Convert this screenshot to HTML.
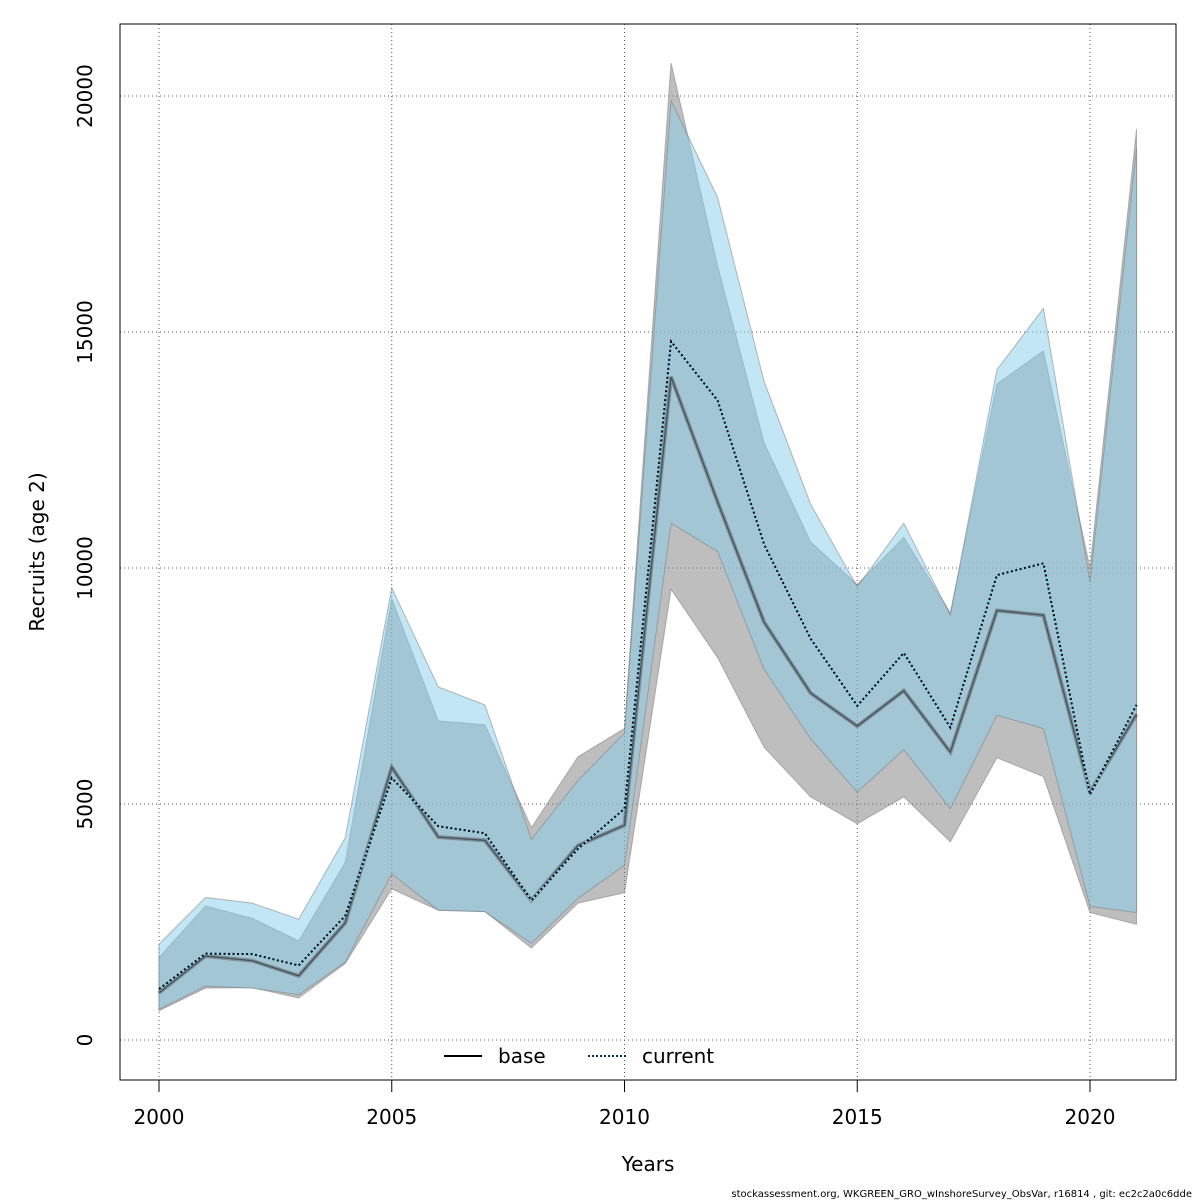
<!DOCTYPE html>
<html><head><meta charset="utf-8"><style>
body{margin:0;background:#fff;font-family:"Liberation Sans","DejaVu Sans",sans-serif}
</style></head><body>
<svg id="chart" width="1200" height="1200" xmlns="http://www.w3.org/2000/svg" style="display:block;font-family:'DejaVu Sans','Liberation Sans',sans-serif">
<g id="grid"></g>
<g id="bands"></g>
<g id="lines"></g>
<rect x="120" y="24" width="1056" height="1056" fill="none" stroke="#000" stroke-width="1"/>
<g id="axes"></g>
<text x="648" y="1171" font-size="20" text-anchor="middle">Years</text>
<text transform="translate(44,552) rotate(-90)" font-size="20" text-anchor="middle">Recruits (age 2)</text>
<g>
<line x1="444" y1="1056" x2="482" y2="1056" stroke="#000" stroke-width="2"/>
<text x="498" y="1063" font-size="20">base</text>
<line x1="588" y1="1056" x2="626" y2="1056" stroke="#00304a" stroke-width="2" stroke-dasharray="2,2"/>
<text x="642" y="1063" font-size="20">current</text>
</g>
<text x="1192" y="1197" font-size="10" text-anchor="end">stockassessment.org, WKGREEN_GRO_wInshoreSurvey_ObsVar, r16814 , git: ec2c2a0c6dde</text>
</svg>
<script>
const years=[2000,2001,2002,2003,2004,2005,2006,2007,2008,2009,2010,2011,2012,2013,2014,2015,2016,2017,2018,2019,2020,2021];
const baseMid=[1000,1780,1680,1360,2480,5780,4300,4230,2960,4120,4550,14050,11400,8850,7350,6650,7400,6100,9100,9000,5250,6900];
const baseLow=[620,1100,1110,890,1620,3200,2750,2720,1950,2900,3120,9550,8100,6200,5150,4580,5150,4200,5980,5580,2700,2450];
const baseHigh=[1750,2840,2580,2100,3760,9350,6760,6680,4500,6000,6600,20700,16400,12650,10550,9650,10650,9050,13900,14600,10000,19300];
const curMid=[1080,1830,1820,1580,2630,5550,4530,4380,2960,4050,4900,14800,13550,10500,8500,7080,8200,6620,9850,10100,5200,7100];
const curLow=[650,1140,1100,960,1650,3520,2750,2720,2050,3000,3700,10950,10350,7850,6380,5250,6150,4900,6880,6600,2830,2700];
const curHigh=[2030,3020,2900,2560,4280,9580,7480,7100,4250,5500,6500,19900,17850,13950,11350,9600,10950,9000,14200,15500,9700,18900];
const xTicks=[2000,2005,2010,2015,2020];
const yTicks=[0,5000,10000,15000,20000];
const NS="http://www.w3.org/2000/svg";
const X=v=>159+(v-2000)*(1090-159)/20;
const Y=v=>1040-v*(1040-96)/20000;
function mk(tag,parent,attrs){const e=document.createElementNS(NS,tag);for(const k in attrs)e.setAttribute(k,attrs[k]);document.getElementById(parent).appendChild(e);return e;}
xTicks.forEach(t=>{
 const g=mk('line','grid',{x1:X(t),x2:X(t),y1:24,y2:1080,stroke:'#555','stroke-dasharray':'1,3'});
 
 
 const tk=mk('line','axes',{x1:X(t),x2:X(t),y1:1080,y2:1092,stroke:'#000'});
 
 
 const tx=mk('text','axes',{x:X(t),y:1124,'font-size':20,'text-anchor':'middle'});tx.textContent=t;
 
 
});
yTicks.forEach(t=>{
 const g=mk('line','grid',{x1:120,x2:1176,y1:Y(t),y2:Y(t),stroke:'#555','stroke-dasharray':'1,3'});
 
 
 const tx=mk('text','axes',{transform:`translate(92,${Y(t)}) rotate(-90)`,'font-size':20,'text-anchor':'middle'});tx.textContent=t;
 
 
});
function band(lo,hi,fill,name){
 const pts=years.map((y,i)=>X(y)+','+Y(hi[i])).concat(years.map((y,i)=>X(y)+','+Y(lo[i])).reverse());
 const p=mk('polygon','bands',{points:pts.join(' '),fill:fill,stroke:'rgba(120,120,120,0.5)','stroke-width':1});
 
 
}
band(baseLow,baseHigh,'rgba(125,125,125,0.5)','base-confidence-band');
band(curLow,curHigh,'rgba(135,206,235,0.5)','current-confidence-band');
function line(vals,attrs,name){
 const p=mk('polyline','lines',Object.assign({points:years.map((y,i)=>X(y)+','+Y(vals[i])).join(' '),fill:'none'},attrs));
 
 
}
line(baseMid,{stroke:'rgba(90,90,90,0.5)','stroke-width':4},'base-line-halo');
line(baseMid,{stroke:'rgba(40,50,60,0.7)','stroke-width':1.2},'base-line');
line(curMid,{stroke:'#87ceeb','stroke-width':2},'current-line-halo');
line(curMid,{stroke:'#000','stroke-width':2,'stroke-dasharray':'2,2.5'},'current-line');
</script>
</body></html>
